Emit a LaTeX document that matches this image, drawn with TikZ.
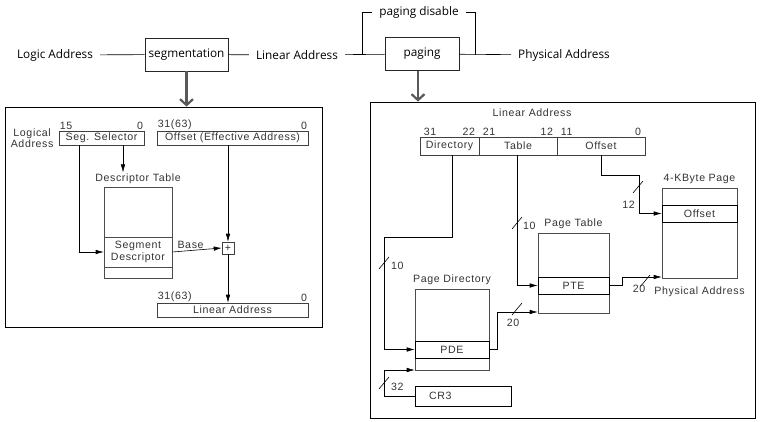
\documentclass[tikz,border=0pt]{standalone}
\usepackage{fontspec}
\setmainfont[LetterSpace=6]{Liberation Sans}
\newfontfamily\topfont{Open Sans}
\usetikzlibrary{arrows.meta, positioning, calc}
\newcommand\infont{\fontsize{10.6}{12}\selectfont}
\newcommand\tightfont{\fontsize{10.6}{11.5}\selectfont}
\newcommand\tpfont{\topfont\fontsize{11.8}{13}\selectfont}
\tikzset{
  topbox/.style = {
    rectangle, draw=black!85, line width=0.7pt, inner sep=0pt,
    minimum height=33pt, font=\tpfont
  },
  toplabel/.style = {inner xsep=7pt, inner ysep=2pt, font=\tpfont},
  frame/.style = {rectangle, draw=black, line width=0.8pt, inner sep=0pt},
  field/.style = {
    rectangle, draw=black!75, line width=0.6pt, inner sep=0pt,
    minimum height=14pt, text=black!80, font=\infont
  },
  tbl/.style = {rectangle, draw=black!70, line width=0.6pt, inner sep=0pt, text=black!80, font=\infont},
  entry/.style = {tbl, draw=black, minimum height=17pt},
  lbl/.style = {inner sep=1pt, text=black!80, font=\infont},
  bits/.style = {lbl, inner ysep=0.5pt},
  conn/.style = {-{Latex[length=8pt,width=4.5pt]}, line width=0.6pt},
  wire/.style = {line width=0.6pt},
  bigarrow/.style = {-{Straight Barb[length=6pt,width=13pt]}, line width=2.2pt, draw=black!65},
  bus/.pic = {\draw[line width=0.6pt] (-5,6) -- (5,-6);}
}

\begin{document}
\begin{tikzpicture}[x=1pt, y=-1pt]
  \useasboundingbox (0,0) rectangle (762,422);
  % Nodes
  \node[toplabel] (logic) at (55,55) {Logic Address};
  \node[topbox, minimum width=83pt] (seg) at (186.5,54.5) {segmentation};
  \node[toplabel] (lin) at (297,55) {Linear Address};
  \node[topbox, minimum width=74pt] (pag) at (422,54) {paging};
  \node[toplabel] (phys) at (564,55) {Physical Address};
  \node[toplabel] (pdis) at (419,12) {paging disable};
  \coordinate (split) at (362,55);
  \coordinate (join) at (475,55);

  \node[frame, minimum width=317pt, minimum height=220pt] (segframe) at (163.5,217) {};
  \node[frame, minimum width=385pt, minimum height=316pt] (pagframe) at (562.5,260) {};

  % Segmentation
  \node[field, minimum width=85pt] (sel) at (101.5,138) {Seg. Selector};
  \node[field, minimum width=151pt] (off) at (232.5,138) {Offset (Effective Address)};
  \node[bits, anchor=south west] at (sel.north west) {15};
  \node[bits, anchor=south east] at (sel.north east) {0};
  \node[bits, anchor=south west] at (off.north west) {31(63)};
  \node[bits, anchor=south east] at (off.north east) {0};
  \node[lbl, align=center, left=4pt of sel, font=\tightfont] (logaddr) {Logical\\Address};

  \node[tbl, minimum width=68pt, minimum height=91pt] (desc) at (138,232.5) {};
  \node[tbl, minimum width=68pt, minimum height=30pt, align=center, font=\tightfont] (segdesc) at (138,252) {Segment\\Descriptor};
  \node[lbl, above=2pt of desc] (desctitle) {Descriptor Table};
  \node[field, minimum width=12pt, minimum height=12pt] (plus) at (228,248) {+};
  \node[field, minimum width=151pt] (linaddr) at (232.5,310) {Linear Address};
  \node[bits, anchor=south west] at (linaddr.north west) {31(63)};
  \node[bits, anchor=south east] at (linaddr.north east) {0};

  % Paging
  \node[lbl] (latitle) at (532,113) {Linear Address};
  \node[field, minimum width=59pt, minimum height=18pt] (dir) at (449.5,146) {Directory};
  \node[field, minimum width=78pt, minimum height=18pt] (tab) at (518,146) {Table};
  \node[field, minimum width=88pt, minimum height=18pt] (offs) at (601,146) {Offset};
  \node[bits, anchor=south west] at ([xshift=3pt]dir.north west) {31};
  \node[bits, anchor=south east] at ([xshift=-3pt]dir.north east) {22};
  \node[bits, anchor=south west] at ([xshift=3pt]tab.north west) {21};
  \node[bits, anchor=south east] at ([xshift=-3pt]tab.north east) {12};
  \node[bits, anchor=south west] at ([xshift=3pt]offs.north west) {11};
  \node[bits, anchor=south east] at ([xshift=-3pt]offs.north east) {0};

  \node[tbl, minimum width=74pt, minimum height=81pt] (pgdir) at (452,329.5) {};
  \node[entry, minimum width=74pt] (pde) at (452,349.5) {PDE};
  \node[lbl, above=3pt of pgdir] {Page Directory};
  \node[tbl, minimum width=71pt, minimum height=80pt] (pgtab) at (573.5,273) {};
  \node[entry, minimum width=71pt] (pte) at (573.5,285.5) {PTE};
  \node[lbl, above=3pt of pgtab] {Page Table};
  \node[tbl, minimum width=75pt, minimum height=90pt] (page) at (699.5,233) {};
  \node[entry, minimum width=75pt] (poff) at (699.5,213.5) {Offset};
  \node[lbl, above=3pt of page] {4-KByte Page};
  \node[lbl, below=7pt of page] {Physical Address};
  \node[tbl, draw=black, minimum height=20pt, text width=68pt, inner xsep=14pt, align=left] (cr3) at (463,396) {CR3};

  \coordinate (dirbend) at (384,237);
  \coordinate (offbend) at (639,175);
  \coordinate (ptebend) at (622,277);
  \coordinate (pdebend) at (497,312);
  \coordinate (cr3bend) at (384,370);

  % Connections
  \draw[wire] (logic) -- (seg);
  \draw[wire] (seg) -- (lin);
  \draw[wire] (lin) -- (pag);
  \draw[wire] (pag) -- (phys);
  \draw[wire] (split) |- (pdis.west);
  \draw[wire] (pdis.east) -| (join);
  \draw[bigarrow] (seg.south) -- (seg.south |- segframe.north);
  \draw[bigarrow] ([xshift=-4pt]pag.south) -- ([xshift=-4pt]pag.south |- pagframe.north);

  \draw[conn] ([xshift=21.5pt]sel.south) -- ([xshift=21.5pt]sel.south |- desctitle.north);
  \draw[conn] ([xshift=-22.5pt]sel.south) |- (segdesc.west);
  \draw[conn] (segdesc.east) -- (plus.west) node[lbl, pos=0.37, above=1pt] {Base};
  \draw[conn] (off.south -| plus) -- (plus.north);
  \draw[conn] (plus.south) -- (plus.south |- linaddr.north);

  \draw[conn] ([xshift=2.5pt]dir.south) |- (dirbend) |- (pde.west);
  \draw[conn] ([xshift=-1pt]tab.south) |- (pte.west);
  \draw[conn] (offs.south) |- (offbend) |- (poff.west);
  \draw[conn] (pte.east) -| (ptebend) -- (ptebend -| page.west);
  \draw[conn] (pde.east) -| (pdebend) -- (pdebend -| pgtab.west);
  \draw[conn] (cr3.west) -| (cr3bend) -- (cr3bend -| pgdir.west);

  % Bus widths
  \pic at (384,263) {bus};
  \node[lbl, anchor=west] at (390,266) {10};
  \pic at (517,223) {bus};
  \node[lbl, anchor=west] at (522,226) {10};
  \pic at (638,187) {bus};
  \node[lbl, anchor=east] at (636,205) {12};
  \pic at (645,281) {bus};
  \node[lbl] at (639,289) {20};
  \pic at (517,309) {bus};
  \node[lbl] at (513,323) {20};
  \pic at (384,383) {bus};
  \node[lbl, anchor=west] at (390,387) {32};
\end{tikzpicture}
\end{document}
